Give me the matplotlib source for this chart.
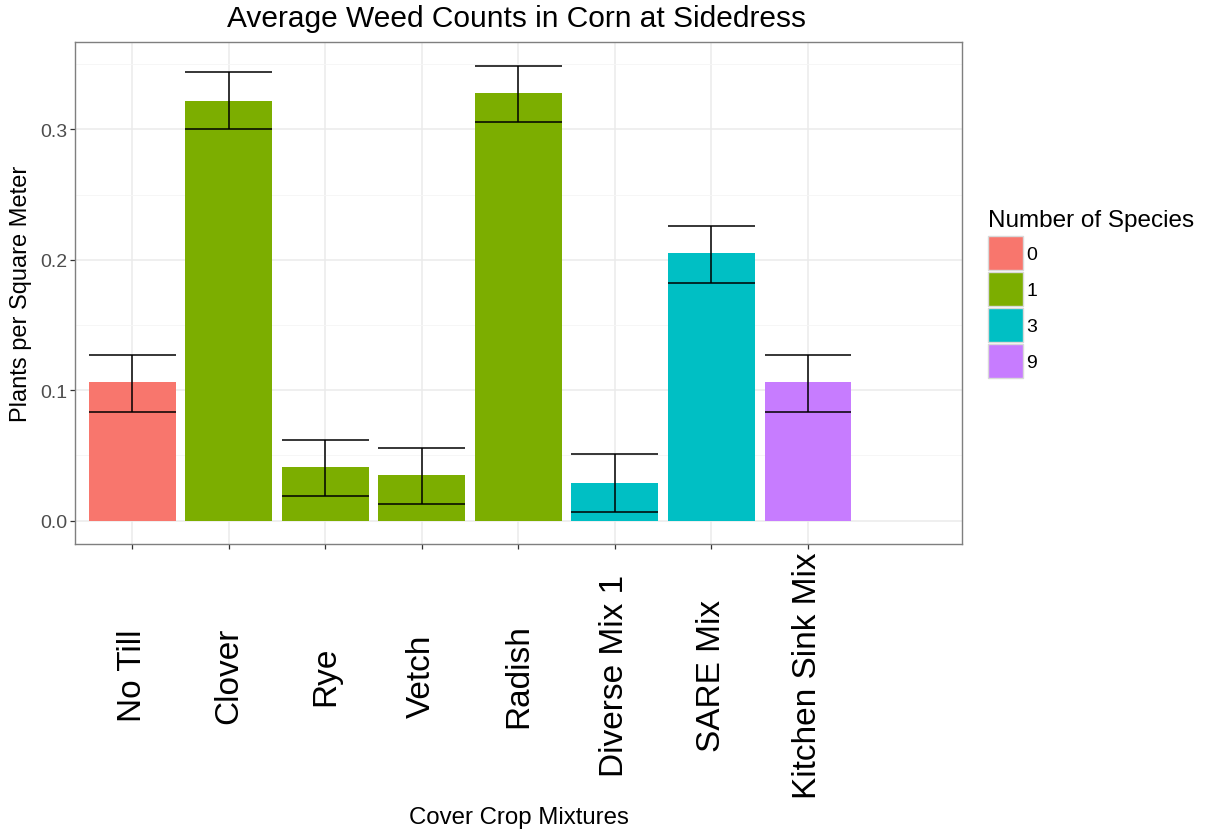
import matplotlib
matplotlib.use("Agg")
import matplotlib.pyplot as plt
from matplotlib.patches import Patch

plt.rcParams['font.family'] = ['Liberation Sans', 'DejaVu Sans']

# ---- data ----
categories = ['No Till', 'Clover', 'Rye', 'Vetch', 'Radish',
              'Diverse Mix 1', 'SARE Mix', 'Kitchen Sink Mix']
species = ['0', '1', '1', '1', '1', '3', '3', '9']
means = [0.106, 0.322, 0.041, 0.035, 0.328, 0.029, 0.205, 0.106]
lower = [0.083, 0.300, 0.019, 0.013, 0.306, 0.007, 0.182, 0.083]
upper = [0.127, 0.344, 0.062, 0.056, 0.349, 0.051, 0.226, 0.127]
species_levels = ['0', '1', '3', '9']
species_colors = {'0': '#F8766D', '1': '#7CAE00', '3': '#00BFC4', '9': '#C77CFF'}

W, H = 1207, 837
fig = plt.figure(figsize=(W / 100, H / 100), dpi=100)
left, right, top, bottom = 75, 962, 43.3, 545
ax = fig.add_axes([left / W, 1 - bottom / H, (right - left) / W, (bottom - top) / H])

x = list(range(len(categories)))
bar_w = 0.9
ax.bar(x, means, width=bar_w, color=[species_colors[s] for s in species],
       edgecolor='none', zorder=2)
ax.vlines(x, lower, upper, color='black', lw=1.1, zorder=3)
ax.hlines(lower, [i - bar_w / 2 for i in x], [i + bar_w / 2 for i in x],
          color='black', lw=1.1, zorder=3)
ax.hlines(upper, [i - bar_w / 2 for i in x], [i + bar_w / 2 for i in x],
          color='black', lw=1.1, zorder=3)

ax.set_xlim(-0.593, 8.596)
ax.set_ylim(-0.0179, 0.3668)

ax.set_yticks([0.0, 0.1, 0.2, 0.3])
ax.set_yticklabels(['0.0', '0.1', '0.2', '0.3'])
ax.set_yticks([0.05, 0.15, 0.25, 0.35], minor=True)
ax.set_xticks(x)
ax.set_xticklabels(categories, rotation=90, ha='center', va='center',
                   fontsize=24, color='black')

ax.grid(True, which='major', color='#EBEBEB', lw=1.1, zorder=0)
ax.grid(True, which='minor', axis='y', color='#F5F5F5', lw=0.6, zorder=0)
ax.set_axisbelow(True)

for sp in ax.spines.values():
    sp.set_color('#7F7F7F')
    sp.set_linewidth(1.0)

ax.tick_params(axis='y', which='major', length=3.3, width=0.9, color='#333333',
               labelsize=14, labelcolor='#4D4D4D', pad=2)
ax.tick_params(axis='y', which='minor', length=0)
ax.tick_params(axis='x', which='major', length=3.3, width=0.9, color='#333333',
               pad=91)

ax.set_xlabel('Cover Crop Mixtures', fontsize=17.3, color='black', va='center')
ax.xaxis.set_label_coords(0.5, -(818 - bottom) / (bottom - top))
ax.set_ylabel('Plants per Square Meter', fontsize=17, color='black', va='center')
ax.yaxis.set_label_coords((21 - left) / (right - left), 0.5)

fig.text(516.5 / W, 1 - 19 / H, 'Average Weed Counts in Corn at Sidedress',
         ha='center', va='center', fontsize=21.5, color='black')

handles = [Patch(facecolor=species_colors[s], edgecolor='#D9D9D9', lw=1.0)
           for s in species_levels]
fs = 14
fpx = fs * 100 / 72
hh = (34 / fpx - 0.245) / 0.65
leg = ax.legend(handles, species_levels, title='Number of Species',
                loc='upper left', bbox_to_anchor=(988 / W, 1 - 210 / H),
                bbox_transform=fig.transFigure, frameon=False,
                fontsize=fs, title_fontsize=17.5, alignment='left',
                handlelength=35 / fpx, handleheight=hh,
                labelspacing=2 / fpx, handletextpad=3 / fpx,
                borderpad=0, borderaxespad=0)
try:
    leg._legend_box.sep = 5 * 0.72
except Exception:
    pass

fig.savefig('out.png', dpi=100)
